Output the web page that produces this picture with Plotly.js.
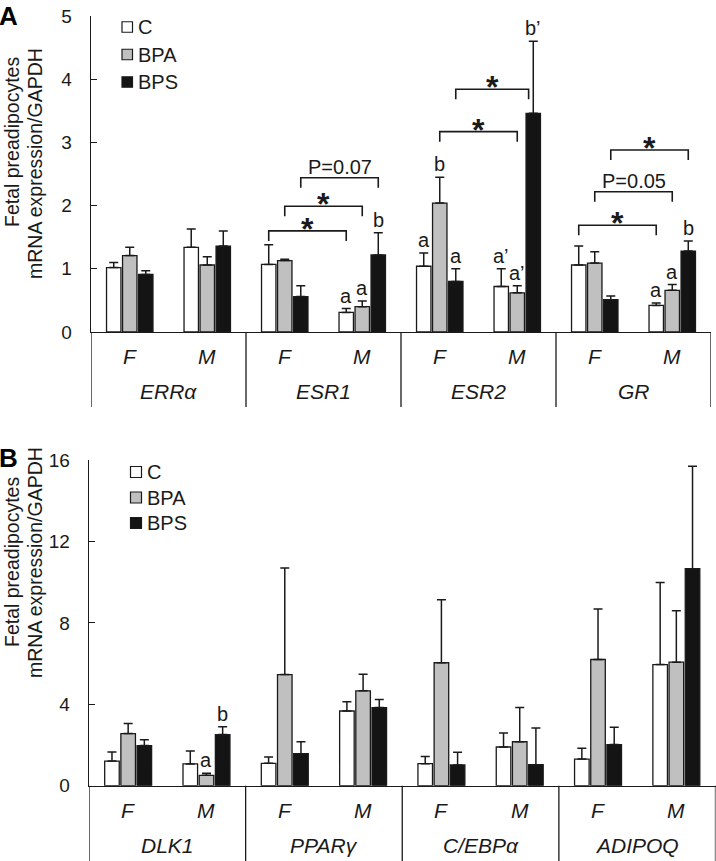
<!DOCTYPE html>
<html>
<head>
<meta charset="utf-8">
<script src="https://cdn.plot.ly/plotly-3.0.1.min.js"></script>
<style>html,body{margin:0;padding:0;background:#fff;}#chart{width:716px;height:861px;}</style>
</head>
<body>
<div id="chart"></div>
<script>
// ---------- data ----------
const sexes = ['F', 'M'];
const genesA = ['ERRα', 'ESR1', 'ESR2', 'GR'];
const genesB = ['DLK1', 'PPARγ', 'C/EBPα', 'ADIPOQ'];
const groups = ['C', 'BPA', 'BPS'];

// Panel A (order: ERRα F, ERRα M, ESR1 F, ESR1 M, ESR2 F, ESR2 M, GR F, GR M)
const cA       = [1.02, 1.34, 1.07, 0.31, 1.04, 0.72, 1.06, 0.42];
const cA_err   = [0.08, 0.29, 0.31, 0.06, 0.21, 0.28, 0.30, 0.04];
const bpaA     = [1.21, 1.06, 1.13, 0.40, 2.04, 0.62, 1.09, 0.66];
const bpaA_err = [0.13, 0.13, 0.02, 0.09, 0.41, 0.11, 0.18, 0.09];
const bpsA     = [0.91, 1.36, 0.56, 1.22, 0.80, 3.46, 0.51, 1.28];
const bpsA_err = [0.06, 0.24, 0.17, 0.35, 0.20, 1.14, 0.06, 0.16];

// Panel B (order: DLK1 F, DLK1 M, PPARγ F, PPARγ M, C/EBPα F, C/EBPα M, ADIPOQ F, ADIPOQ M)
const cB       = [1.21, 1.07, 1.10, 3.67, 1.08, 1.90, 1.31, 5.95];
const cB_err   = [0.45, 0.64, 0.31, 0.46, 0.35, 0.69, 0.53, 4.03];
const bpaB     = [2.56, 0.51, 5.46, 4.66, 6.04, 2.16, 6.20, 6.07];
const bpaB_err = [0.49, 0.10, 5.23, 0.82, 3.09, 1.68, 2.48, 2.52];
const bpsB     = [1.97, 2.51, 1.57, 3.84, 1.02, 1.03, 2.02, 10.66];
const bpsB_err = [0.29, 0.38, 0.59, 0.39, 0.62, 1.81, 0.85, 5.03];

// Letter labels: [category index, group index, text]
const lettersA = [
  [3, 0, 'a'], [3, 1, 'a'], [3, 2, 'b'],
  [4, 0, 'a'], [4, 1, 'b'], [4, 2, 'a'],
  [5, 0, 'a’'], [5, 1, 'a’'], [5, 2, 'b’'],
  [7, 0, 'a'], [7, 1, 'a'], [7, 2, 'b']
];
const lettersB = [[1, 1, 'a'], [1, 2, 'b']];

// Comparison brackets in panel A: [catFrom, catTo, group, height, label]
const bracketsA = [
  [2, 3, 0, 1.60, '*'],
  [2, 3, 1, 1.99, '*'],
  [2, 3, 2, 2.44, 'P=0.07'],
  [4, 5, 1, 3.17, '*'],
  [4, 5, 2, 3.84, '*'],
  [6, 7, 0, 1.69, '*'],
  [6, 7, 1, 2.22, 'P=0.05'],
  [6, 7, 2, 2.88, '*']
];

// ---------- geometry / style ----------
const W = 716, H = 861;
const fills = ['#ffffff', '#c0c0c0', '#141414'];
const ink = '#1a1a1a';
const FONT = 'Liberation Sans, Arial, Helvetica, sans-serif';
const xIdx = [0, 1, 2, 3, 4, 5, 6, 7];
const bargap = 0.38;
const slot = (1 - bargap) / 3;

const domA = {x: [91 / W, 711 / W], y: [1 - 332 / H, 1 - 16 / H]};
const domB = {x: [89 / W, 715.5 / W], y: [1 - 785.7 / H, 1 - 460 / H]};

function barTrace(vals, errs, g, xa, ya) {
  return {
    type: 'bar', x: xIdx, y: vals, name: groups[g], xaxis: xa, yaxis: ya,
    showlegend: false,
    marker: {color: fills[g], line: {color: ink, width: 1.3}},
    error_y: {type: 'data', symmetric: false, array: errs, arrayminus: errs.map(() => 0),
              color: ink, thickness: 1.5, width: 4.5},
    hoverinfo: 'skip'
  };
}

const traces = [
  barTrace(cA, cA_err, 0, 'x', 'y'),
  barTrace(bpaA, bpaA_err, 1, 'x', 'y'),
  barTrace(bpsA, bpsA_err, 2, 'x', 'y'),
  barTrace(cB, cB_err, 0, 'x2', 'y2'),
  barTrace(bpaB, bpaB_err, 1, 'x2', 'y2'),
  barTrace(bpsB, bpsB_err, 2, 'x2', 'y2')
];

const annotations = [];
const shapes = [];
const pxA = (domA.y[1] - domA.y[0]) * H / 5; // px per unit panel A
const tickA = 10 / pxA;

// brackets
bracketsA.forEach(b => {
  const x0 = b[0] + (b[2] - 1) * slot;
  let x1 = b[1] + (b[2] - 1) * slot;
  if (b[0] === 4 && b[2] === 2) x1 -= 0.06;
  traces.push({
    type: 'scatter', mode: 'lines', x: [x0, x0, x1, x1],
    y: [b[3] - tickA, b[3], b[3], b[3] - tickA],
    xaxis: 'x', yaxis: 'y', showlegend: false, hoverinfo: 'skip',
    line: {color: ink, width: 1.6}, cliponaxis: false
  });
  const star = b[4] === '*';
  annotations.push({
    xref: 'x', yref: 'y', x: (x0 + x1) / 2, y: b[3], text: b[4], showarrow: false,
    xanchor: 'center', yanchor: star ? 'middle' : 'bottom', yshift: star ? 2 : -2,
    font: star ? {family: FONT, size: 32, color: ink, weight: 'bold'} : {family: FONT, size: 20, color: ink}
  });
});

function letters(list, vals, errs, xr, yr) {
  list.forEach(l => {
    const arr = vals[l[1]], e = errs[l[1]];
    annotations.push({
      xref: xr, yref: yr, x: l[0] + (l[1] - 1) * slot, y: arr[l[0]] + e[l[0]],
      text: l[2], showarrow: false, xanchor: 'center', yanchor: 'bottom', yshift: 0,
      font: {family: FONT, size: 20, color: ink}
    });
  });
}
letters(lettersA, [cA, bpaA, bpsA], [cA_err, bpaA_err, bpsA_err], 'x', 'y');
letters(lettersB, [cB, bpaB, bpsB], [cB_err, bpaB_err, bpsB_err], 'x2', 'y2');

// category boxes
function catBox(genes, xr, dom, bottomPx) {
  const y0 = dom.y[0];
  const fmY = y0 - 25 / H;
  const gY = y0 - 60 / H;
  genes.forEach((g, gi) => {
    sexes.forEach((s, si) => {
      annotations.push({xref: xr, yref: 'paper', x: gi * 2 + si, y: fmY, text: s, showarrow: false,
        xanchor: 'center', yanchor: 'middle', font: {family: FONT, size: 21, color: ink, style: 'italic'}});
    });
    annotations.push({xref: xr, yref: 'paper', x: gi * 2 + 0.5, y: gY, text: g, showarrow: false,
      xanchor: 'center', yanchor: 'middle', font: {family: FONT, size: 21, color: ink, style: 'italic'}});
  });
  for (let k = 0; k <= genes.length; k++) {
    shapes.push({type: 'line', xref: xr, yref: 'paper', x0: k * 2 - 0.5, x1: k * 2 - 0.5,
      y0: y0, y1: 1 - bottomPx / H, line: {color: ink, width: 1.3}});
  }
}
catBox(genesA, 'x', domA, 407);
catBox(genesB, 'x2', domB, 861);

// legends (square swatch + label)
function legendBlock(x, y0, step, size, fontSize) {
  groups.forEach((g, i) => {
    const cy = y0 + i * step;
    shapes.push({type: 'rect', xref: 'paper', yref: 'paper',
      x0: x / W, x1: (x + size) / W, y0: 1 - (cy - size / 2) / H, y1: 1 - (cy + size / 2) / H,
      fillcolor: fills[i], line: {color: ink, width: 1.2}});
    annotations.push({xref: 'paper', yref: 'paper', x: (x + size + 3) / W, y: 1 - cy / H, text: g,
      showarrow: false, xanchor: 'left', yanchor: 'middle',
      font: {family: FONT, size: fontSize, color: ink}});
  });
}
legendBlock(122, 27, 27.5, 10.5, 20);
legendBlock(130.5, 472, 25.5, 11, 20);

// y titles and panel letters
function yTitle(c1, c2) {
  annotations.push({xref: 'paper', yref: 'paper', x: 12 / W, y: 1 - c1 / H, textangle: -90,
    text: 'Fetal preadipocytes', showarrow: false, xanchor: 'center', yanchor: 'middle',
    font: {family: FONT, size: 19.5, color: ink}});
  annotations.push({xref: 'paper', yref: 'paper', x: 35 / W, y: 1 - c2 / H, textangle: -90,
    text: 'mRNA expression/GAPDH', showarrow: false, xanchor: 'center', yanchor: 'middle',
    font: {family: FONT, size: 19.5, color: ink}});
}
yTitle(142, 164);
yTitle(562, 563);
annotations.push({xref: 'paper', yref: 'paper', x: 0, y: 1 - 16 / H, text: 'A', showarrow: false,
  xanchor: 'left', yanchor: 'middle', xshift: -3, font: {family: FONT, size: 26, color: '#000', weight: 'bold'}});
annotations.push({xref: 'paper', yref: 'paper', x: 0, y: 1 - 458 / H, text: 'B', showarrow: false,
  xanchor: 'left', yanchor: 'middle', xshift: -3, font: {family: FONT, size: 26, color: '#000', weight: 'bold'}});

const xCommon = {range: [-0.5, 7.5], showline: true, linecolor: ink, linewidth: 1.3, ticks: '',
  showticklabels: false, showgrid: false, zeroline: false, fixedrange: true};
const yCommon = {showline: true, linecolor: ink, linewidth: 1.3, ticks: 'inside', ticklen: 6,
  tickwidth: 1.3, tickcolor: ink, showgrid: false, zeroline: false, fixedrange: true,
  ticklabelstandoff: 14, tickfont: {family: FONT, size: 19, color: ink}};

const layout = {
  width: W, height: H, margin: {l: 0, r: 0, t: 0, b: 0, autoexpand: false},
  paper_bgcolor: '#fff', plot_bgcolor: '#fff',
  barmode: 'group', bargap: bargap, bargroupgap: 0.1,
  font: {family: FONT, color: ink},
  xaxis: Object.assign({}, xCommon, {domain: domA.x, anchor: 'y'}),
  yaxis: Object.assign({}, yCommon, {domain: domA.y, anchor: 'x', range: [0, 5], dtick: 1}),
  xaxis2: Object.assign({}, xCommon, {domain: domB.x, anchor: 'y2'}),
  yaxis2: Object.assign({}, yCommon, {domain: domB.y, anchor: 'x2', range: [0, 16], dtick: 4}),
  annotations: annotations,
  shapes: shapes,
  showlegend: false
};

Plotly.newPlot('chart', traces, layout, {displayModeBar: false, staticPlot: true});
</script>
</body>
</html>
